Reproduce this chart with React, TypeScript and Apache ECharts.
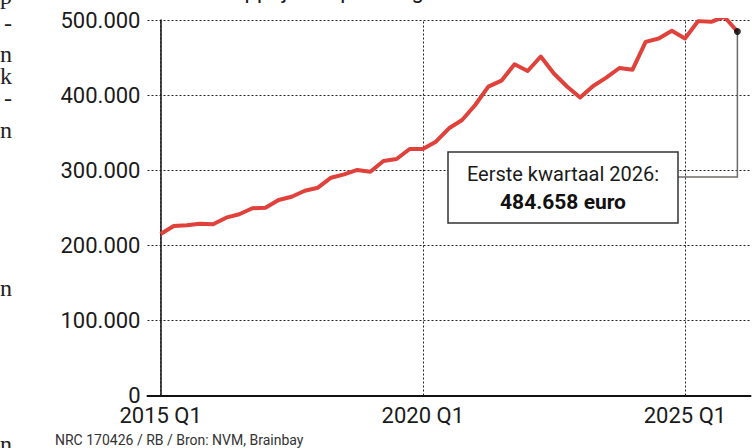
import React, { useEffect, useRef } from "react";
import * as echarts from "echarts";

// Average house price per quarter, 2015 Q1 .. 2026 Q1 (euro)
const prices: number[] = [
  215100, 225700, 226600, 228800, 228000, 236800, 241300, 249300, 250100, 260300,
  264700, 272700, 276700, 290000, 294500, 300300, 298000, 312300, 314900, 328200,
  328200, 338000, 355800, 366900, 386800, 411200, 419200, 441000, 432100, 451400,
  428800, 411500, 396800, 412100, 423200, 436100, 433800, 470900, 475400, 485600,
  475400, 498500, 497600, 504300, 484658,
];

const years: number[] = [2015, 2016, 2017, 2018, 2019, 2020, 2021, 2022, 2023, 2024, 2025, 2026];
const quarterNames: string[] = ["Q1", "Q2", "Q3", "Q4"];
const quarterLabels: string[] = years
  .flatMap((y) => quarterNames.map((q) => `${y} ${q}`))
  .slice(0, prices.length);

const xTickLabels: string[] = ["2015 Q1", "2020 Q1", "2025 Q1"];
const yTickValues: number[] = [0, 100000, 200000, 300000, 400000, 500000];

const titleText = "Gemiddelde verkoopprijs koopwoning";
const annotationTitle = "Eerste kwartaal 2026:";
const footerText = "NRC 170426 / RB / Bron: NVM, Brainbay";
const sideGlyphs: string[] = ["p", "-", "n", "k", "-", "n", "n", "n"];
const sideGlyphBaselines: number[] = [4, 31, 62, 84, 106, 138, 296, 452];

const FONT = "Roboto, 'Liberation Sans', sans-serif";
const SERIF = "'Liberation Serif', 'DejaVu Serif', serif";

const fmt = (n: number) => String(Math.round(n)).replace(/\B(?=(\d{3})+(?!\d))/g, ".");

export default function App() {
  const ref = useRef<HTMLDivElement | null>(null);

  useEffect(() => {
    if (!ref.current) return;
    const chart = echarts.init(ref.current, undefined, { renderer: "svg" });
    const xTickIdx = xTickLabels.map((l) => quarterLabels.indexOf(l));
    const lastIdx = prices.length - 1;
    const last = prices[lastIdx];

    chart.setOption({
      animation: false,
      backgroundColor: "#ffffff",
      grid: { left: 147.5, right: 1.5, top: 20, bottom: 52.5, containLabel: false },
      xAxis: {
        type: "value",
        min: -1,
        max: prices.length,
        axisLine: { show: true, onZero: false, lineStyle: { color: "#111", width: 2 } },
        axisTick: { show: false },
        splitLine: { show: false },
        axisLabel: {
          customValues: xTickIdx,
          formatter: (v: number) => quarterLabels[Math.round(v)] ?? "",
          fontSize: 22,
          lineHeight: 18,
          color: "#1a1a1a",
          margin: 11,
          fontFamily: FONT,
        },
      },
      yAxis: {
        type: "value",
        min: yTickValues[0],
        max: yTickValues[yTickValues.length - 1],
        interval: yTickValues[1] - yTickValues[0],
        axisLine: { show: true, lineStyle: { color: "#111", width: 1.5 } },
        axisTick: { show: false },
        splitLine: { show: true, lineStyle: { type: [2, 2], color: "#222", width: 1 } },
        axisLabel: {
          formatter: (v: number) => fmt(v),
          fontSize: 22,
          lineHeight: 18,
          color: "#1a1a1a",
          margin: 7,
          fontFamily: FONT,
        },
      },
      series: [
        {
          type: "line",
          data: prices.map((v, i) => [i, v]),
          symbol: "none",
          z: 4,
          lineStyle: { color: "#e0413a", width: 4, join: "round" },
          markLine: {
            silent: true,
            symbol: "none",
            label: { show: false },
            lineStyle: { type: [2, 2], color: "#222", width: 1 },
            data: xTickIdx.map((i) => ({ xAxis: i })),
            z: 2,
          },
        },
        {
          type: "scatter",
          data: [[lastIdx, last]],
          symbolSize: 7,
          itemStyle: { color: "#000" },
          z: 6,
        },
      ],
    });

    const [px, py] = chart.convertToPixel({ xAxisIndex: 0, yAxisIndex: 0 }, [lastIdx, last]) as number[];
    const boxL = 448, boxT = 152, boxW = 230, boxH = 71;
    const elbowY = 177;

    chart.setOption({
      graphic: [
        {
          type: "polyline",
          z: 5,
          shape: { points: [[px, py], [px, elbowY], [boxL + boxW, elbowY]] },
          style: { stroke: "#6e6a66", lineWidth: 1.5, fill: "none" },
        },
        {
          type: "rect",
          z: 10,
          shape: { x: boxL, y: boxT, width: boxW, height: boxH },
          style: { fill: "#ffffff", stroke: "#333", lineWidth: 1.5 },
        },
        {
          type: "text",
          z: 11,
          x: boxL + boxW / 2,
          y: boxT + 22,
          style: {
            text: annotationTitle,
            fontSize: 20,
            fontFamily: FONT,
            fill: "#1a1a1a",
            align: "center",
            verticalAlign: "middle",
          },
        },
        {
          type: "text",
          z: 11,
          x: boxL + boxW / 2,
          y: boxT + 50,
          style: {
            text: `${fmt(last)} euro`,
            fontSize: 21,
            fontWeight: "bold",
            fontFamily: FONT,
            fill: "#111",
            align: "center",
            verticalAlign: "middle",
          },
        },
        {
          type: "text",
          x: 56,
          y: -10,
          style: {
            text: titleText,
            fontSize: 22,
            lineHeight: 14,
            fontFamily: FONT,
            fill: "#1a1a1a",
            align: "left",
            verticalAlign: "middle",
          },
        },
        {
          type: "text",
          x: 55,
          y: 440,
          style: {
            text: footerText,
            fontSize: 14,
            lineHeight: 12,
            fontFamily: FONT,
            fill: "#333",
            align: "left",
            verticalAlign: "middle",
          },
        },
        ...sideGlyphs.map((g, i) => ({
          type: "text",
          x: 12,
          y: sideGlyphBaselines[i] - 8,
          style: {
            text: g,
            fontSize: 24,
            lineHeight: 14,
            fontFamily: SERIF,
            fill: "#222",
            align: "right",
            verticalAlign: "middle",
          },
        })),
      ],
    });

    return () => chart.dispose();
  }, []);

  return (
    <div
      ref={ref}
      style={{ position: "fixed", left: 0, top: 0, width: 752, height: 448, background: "#fff" }}
    />
  );
}
